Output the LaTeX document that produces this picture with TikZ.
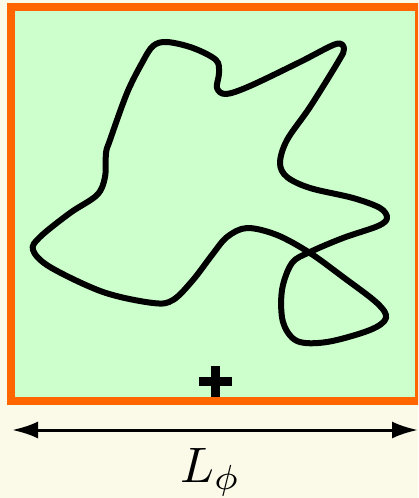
\documentclass[tikz,border=0pt]{standalone}
\usepackage{graphicx}
\usetikzlibrary{arrows.meta}
\definecolor{cream}{HTML}{FBFAE9}
\definecolor{paleg}{HTML}{CCFFCC}
\definecolor{frameor}{HTML}{FF6600}
\begin{document}
\begin{tikzpicture}[x=1bp,y=-1bp,
  frame/.style={draw=frameor,fill=paleg,line width=8bp},
  loopline/.style={draw=black,line width=6bp,line join=round},
  plusbar/.style={draw=black,line width=9bp},
  dimarrow/.style={draw=black,line width=3bp,{Latex[length=26bp,width=17bp]}-{Latex[length=26bp,width=17bp]}}]
\useasboundingbox (0,0) rectangle (418,498);
\clip (0,0) rectangle (418,498);
\fill[cream] (0,0) rectangle (418,498);
\path[frame] (11,7) rectangle (419,401);
\draw[loopline] plot[smooth cycle,tension=0.55] coordinates {
 (167,42) (193,48) (216,60) (219,73) (217,88) (226,94) (250,86) (300,62)
 (336,44) (344,49) (338,62) (310,107) (287,140) (280,163) (287,177)
 (310,188) (353,198) (380,208) (387,218) (378,226) (343,238) (310,252)
 (292,263) (282,290) (283,322) (297,341) (327,342) (370,330) (386,318)
 (377,303) (343,277) (310,253) (277,235) (247,228) (227,237) (212,255)
 (193,280) (173,300) (153,303) (103,292) (50,267) (33,250) (40,237)
 (70,213) (97,195) (105,177) (106,153) (110,140) (127,93) (142,63) (153,46)};
\draw[plusbar] (199,381) -- (232,381);
\draw[plusbar] (215.5,366) -- (215.5,397);
\coordinate (aL) at (12,430);
\coordinate (aR) at (418,430);
\draw[dimarrow] (aL) -- (aR);
\node[anchor=base west,inner sep=0pt] (lab) at (180,482) {\scalebox{5}{$L_\phi$}};
\end{tikzpicture}
\end{document}
